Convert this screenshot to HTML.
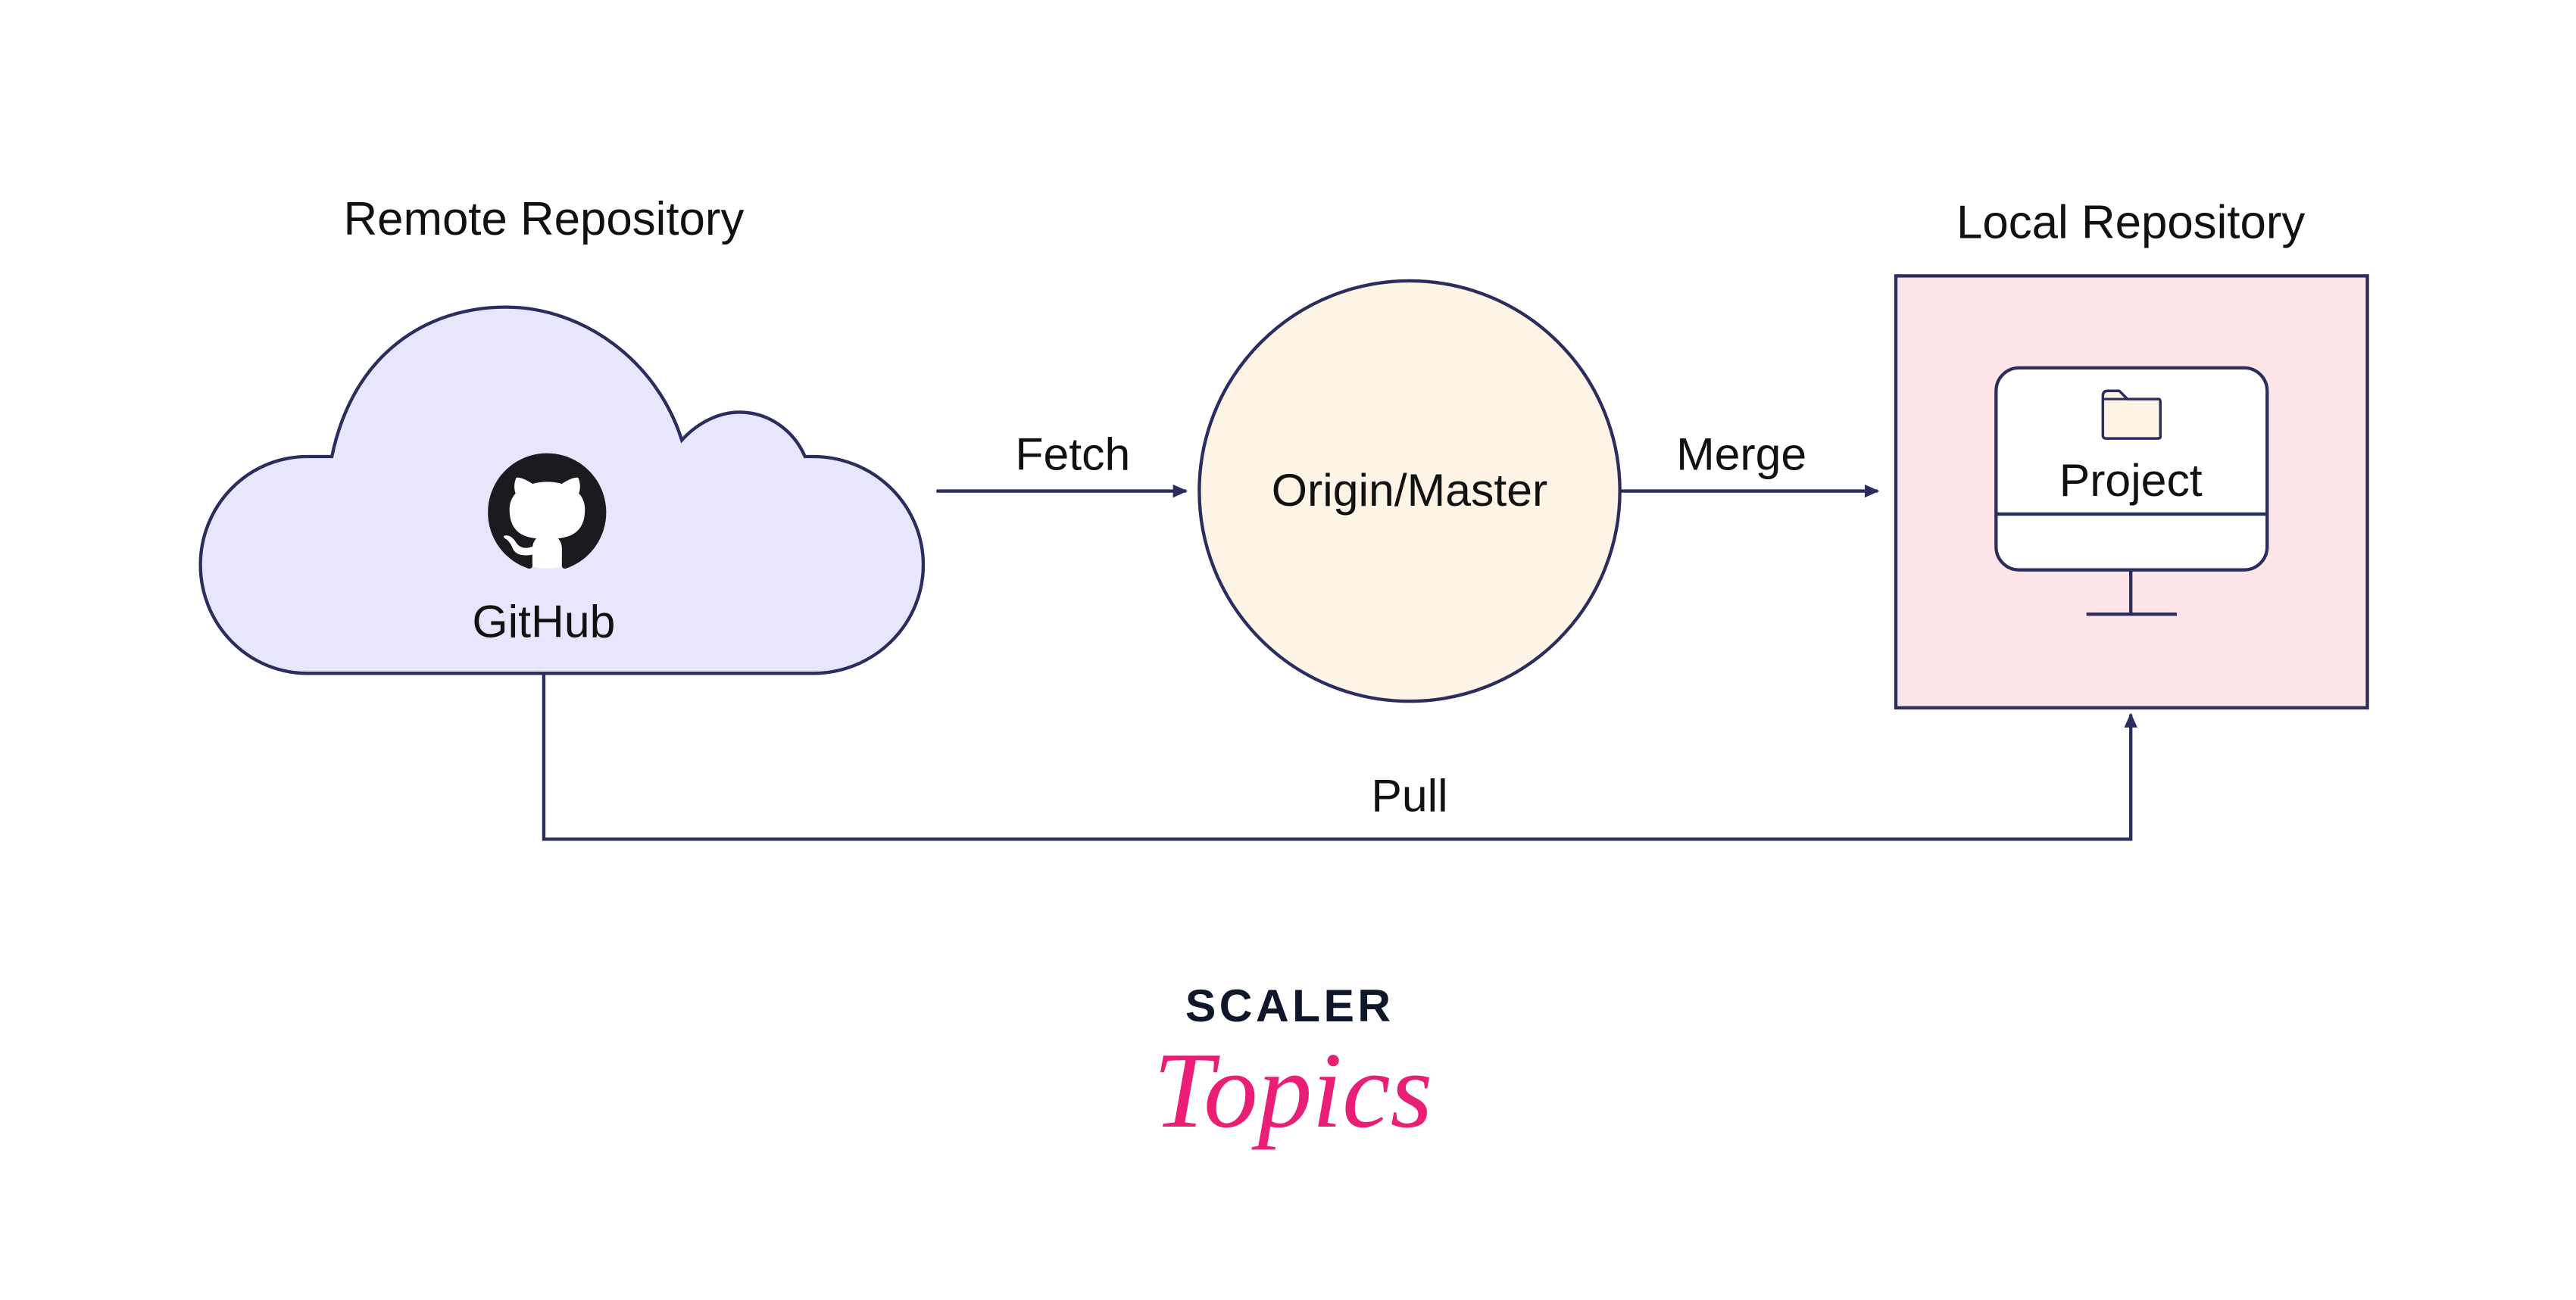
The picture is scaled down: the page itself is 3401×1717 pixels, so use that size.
<!DOCTYPE html>
<html><head><meta charset="utf-8"><style>
html,body{margin:0;padding:0;background:#fff;}
svg{display:block;}
text{font-family:"Liberation Sans","DejaVu Sans",sans-serif;fill:#111;}
</style></head><body>
<svg width="3401" height="1717" viewBox="0 0 1568 791.6" preserveAspectRatio="none" xmlns="http://www.w3.org/2000/svg">
<defs>
<marker id="ar" markerWidth="10" markerHeight="10" refX="8" refY="5" orient="auto" markerUnits="userSpaceOnUse">
<path d="M0,1 L9,5 L0,9 Z" fill="#2b2d5e"/>
</marker>
</defs>
<rect width="1568" height="791.6" fill="#fff"/>
<text x="331" y="143" font-size="28.5" text-anchor="middle">Remote Repository</text>
<path d="M202,278 C215,215 260,187 308,187 C355,187 400,220 415,268 C425,257 438,251 450,251 C468,251 483,262 490,278 L495,278 A67,66 0 0 1 495,410 L187,410 A65,66 0 0 1 187,278 Z" fill="#e7e6fc" stroke="#2b2d5e" stroke-width="2"/>
<g transform="translate(297,276) scale(4.5)">
<circle cx="8" cy="8" r="7.6" fill="#fff"/>
<path fill="#1b1b1f" d="M8 0C3.58 0 0 3.58 0 8c0 3.54 2.29 6.53 5.470 7.59.4.07.55-.17.55-.38 0-.19-.01-.82-.01-1.490-2.01.37-2.530-.49-2.690-.94-.09-.23-.48-.94-.82-1.130-.28-.15-.68-.52-.01-.53.63-.01 1.080.58 1.230.82.72 1.210 1.870.87 2.330.66.07-.52.28-.87.51-1.070-1.780-.2-3.640-.89-3.640-3.950 0-.87.31-1.590.82-2.150-.08-.2-.36-1.020.08-2.120 0 0 .67-.21 2.2.82.64-.18 1.320-.27 2-.27.68 0 1.360.09 2 .27 1.530-1.040 2.2-.82 2.2-.82.44 1.1.16 1.920.08 2.120.51.56.82 1.270.82 2.150 0 3.070-1.870 3.750-3.650 3.950.29.25.54.73.54 1.480 0 1.070-.01 1.930-.01 2.2 0 .21.15.46.55.38A8.013 8.013 0 0016 8c0-4.420-3.580-8-8-8z"/>
</g>
<text x="331" y="388" font-size="28" text-anchor="middle">GitHub</text>
<line x1="570" y1="299" x2="722" y2="299" stroke="#2b2d5e" stroke-width="2" marker-end="url(#ar)"/>
<text x="653" y="286" font-size="28" text-anchor="middle">Fetch</text>
<circle cx="858" cy="299" r="128" fill="#fdf4e6" stroke="#2b2d5e" stroke-width="2"/>
<text x="858" y="308" font-size="28" text-anchor="middle">Origin/Master</text>
<line x1="986" y1="299" x2="1143" y2="299" stroke="#2b2d5e" stroke-width="2" marker-end="url(#ar)"/>
<text x="1060" y="286" font-size="28" text-anchor="middle">Merge</text>
<text x="1297" y="145" font-size="28.5" text-anchor="middle">Local Repository</text>
<rect x="1154" y="168" width="287" height="263" fill="#fde4e9" stroke="#2b2d5e" stroke-width="2"/>
<rect x="1215" y="224" width="165" height="123" rx="14" fill="#fff" stroke="#2b2d5e" stroke-width="2"/>
<line x1="1215" y1="313" x2="1380" y2="313" stroke="#2b2d5e" stroke-width="2"/>
<line x1="1297" y1="347" x2="1297" y2="374" stroke="#2b2d5e" stroke-width="2"/>
<line x1="1270" y1="374" x2="1325" y2="374" stroke="#2b2d5e" stroke-width="2"/>
<path d="M1280,241 Q1280,238 1283,238 L1290,238 L1295,243 L1314,243 Q1315,243 1315,245 L1315,266 Q1315,267 1313,267 L1282,267 Q1280,267 1280,265 Z" fill="#fdf4e6" stroke="#2b2d5e" stroke-width="1.6"/>
<line x1="1280" y1="243" x2="1295" y2="243" stroke="#2b2d5e" stroke-width="1.4"/>
<text x="1297" y="302" font-size="28" text-anchor="middle">Project</text>
<polyline points="331,410 331,511 1297,511 1297,435" fill="none" stroke="#2b2d5e" stroke-width="2" marker-end="url(#ar)"/>
<text x="858" y="494" font-size="28" text-anchor="middle">Pull</text>
<text x="785" y="622" font-size="28" font-weight="bold" text-anchor="middle" letter-spacing="2" style="fill:#0f172a">SCALER</text>
<text x="787" y="686" font-size="66" font-style="italic" text-anchor="middle" style="font-family:'Liberation Serif',serif;fill:#e91e74">Topics</text>
</svg>
</body></html>
